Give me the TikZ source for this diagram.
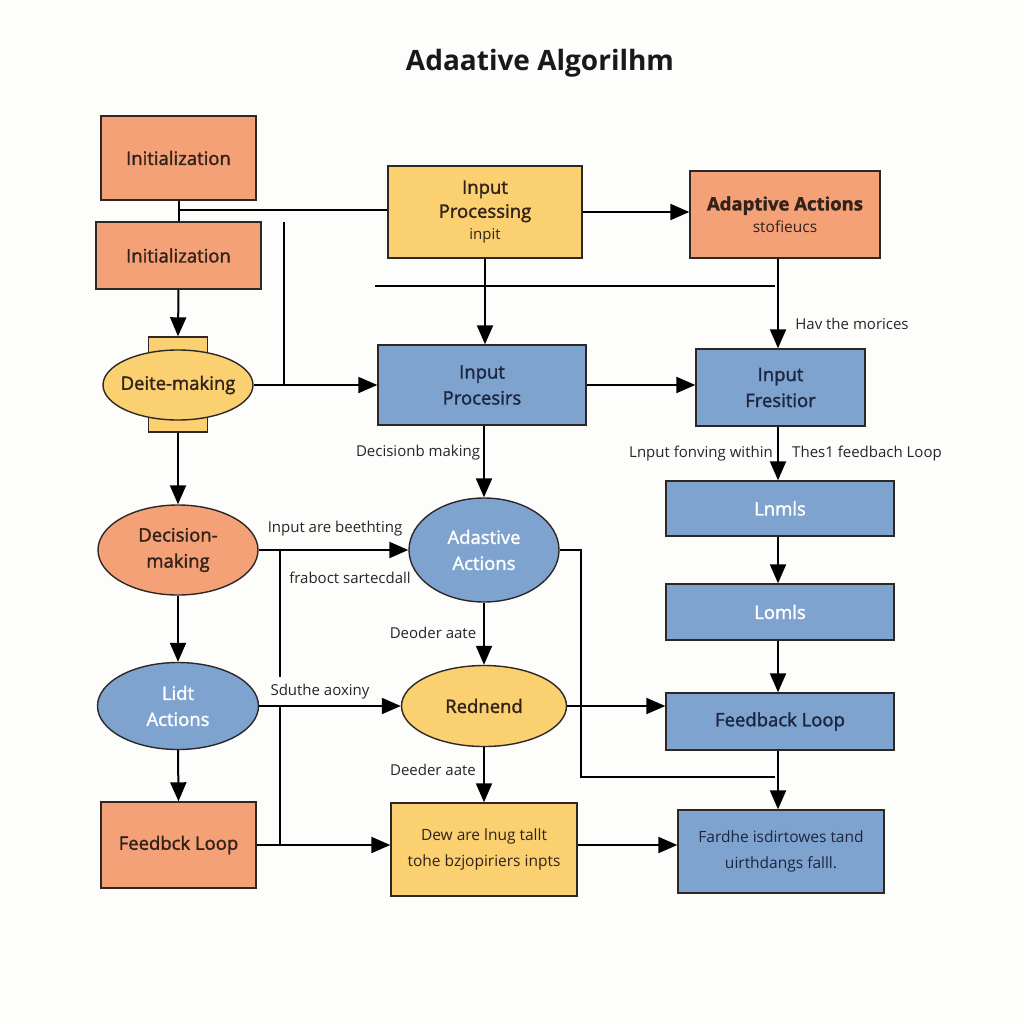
\documentclass[tikz,border=0pt]{standalone}
\usepackage{fontspec}
\setmainfont{Open Sans}
\newfontfamily\medf[FakeBold=1.6]{Open Sans}
\usetikzlibrary{shapes.geometric,arrows.meta}
\definecolor{org}{RGB}{244,161,120}
\definecolor{yel}{RGB}{250,208,112}
\definecolor{blu}{RGB}{126,163,206}
\definecolor{edge}{RGB}{45,40,38}
\definecolor{dtxt}{RGB}{50,34,26}
\definecolor{ntxt}{RGB}{28,38,64}
\definecolor{bg}{RGB}{253,253,252}
\begin{document}
\begin{tikzpicture}[x=1pt,y=-1pt,
  shp/.style={draw=edge,line width=1.4pt,inner sep=0pt,align=center,
    font=\medf\fontsize{18.5}{26}\selectfont},
  obox/.style={shp,rectangle,fill=org,text=dtxt},
  ybox/.style={shp,rectangle,fill=yel,text=dtxt},
  bbox/.style={shp,rectangle,fill=blu,text=ntxt},
  wbox/.style={shp,rectangle,fill=blu,text=white},
  oell/.style={shp,ellipse,fill=org,text=dtxt},
  yell/.style={shp,ellipse,fill=yel,text=dtxt},
  bell/.style={shp,ellipse,fill=blu,text=white},
  conn/.style={line width=2pt,draw=black},
  arr/.style={conn,-{Triangle[length=19pt,width=16pt]}},
  lbl/.style={inner sep=0pt,text=black!85,font=\fontsize{15}{17}\selectfont}
]
\useasboundingbox[fill=bg] (0,0) rectangle (1024,1024);

% title
\node[inner sep=0pt,font=\bfseries\fontsize{28}{30}\selectfont,text=black!90] (title) at (540,63) {Adaative Algorilhm};

% left column
\node[obox,minimum width=155,minimum height=84] (init1) at (178.5,158) {Initialization};
\node[obox,minimum width=165,minimum height=67] (init2) at (178.5,255.5) {Initialization};
\node[rectangle,draw=edge,fill=yel,line width=1.4pt,inner sep=0pt,minimum width=59,minimum height=95] (tab) at (178,384.5) {};
\node[yell,inner xsep=-16pt,minimum width=150,minimum height=70] (dm0) at (178,385) {Deite-making};
\node[oell,minimum width=160,minimum height=90] (dec) at (178,550) {Decision-\\making};
\node[bell,minimum width=161,minimum height=87] (lidt) at (178,706) {Lidt\\Actions};
\node[obox,minimum width=155,minimum height=86] (fbl) at (178.5,845) {Feedbck Loop};

% middle column
\node[ybox,minimum width=194,minimum height=92] (inproc) at (485,212) {Input\\[-2pt]Processing\\[-4pt]{\fontsize{15}{18}\selectfont\normalfont inpit}};
\node[bbox,minimum width=208,minimum height=80] (inprocs) at (482,385) {Input\\Procesirs};
\node[bell,minimum width=150,minimum height=104] (adap) at (484,550) {Adastive\\Actions};
\node[yell,minimum width=165,minimum height=81] (red) at (484,706) {Rednend};
\node[ybox,minimum width=186,minimum height=93,font=\fontsize{15.5}{26}\selectfont] (ybot) at (484,849.5) {Dew are lnug tallt\\tohe bzjopiriers inpts};

% right column
\node[obox,minimum width=190,minimum height=87] (adabox) at (785,214.5) {{\bfseries Adaptive Actions}\\[-4pt]{\fontsize{15.5}{18}\selectfont\normalfont stofieucs}};
\node[bbox,minimum width=169,minimum height=77] (fres) at (780.5,387.5) {Input\\Fresitior};
\node[wbox,minimum width=228,minimum height=55] (lnmls) at (780,508.5) {Lnmls};
\node[wbox,minimum width=228,minimum height=56] (lomls) at (780,612) {Lomls};
\node[bbox,minimum width=228,minimum height=57] (fbr) at (780,721.5) {Feedback Loop};
\node[bbox,minimum width=206,minimum height=83,font=\fontsize{15.5}{26}\selectfont] (rbot) at (781,851.5) {Fardhe isdirtowes tand\\uirthdangs falll.};

% helper coordinates
\coordinate (j1) at (178.5,210);
\coordinate (v1) at (284,222);
\coordinate (v2) at (280,677);
\coordinate (v3) at (280,706);
\coordinate (v3b) at (280,846);
\coordinate (h1a) at (375,286);
\coordinate (h1b) at (775,286);
\coordinate (c1) at (581,777);
\coordinate (c2) at (775,777);
\coordinate (rx) at (778,0);

% connectors left
\draw[conn] (init1.south) -- (init2.north);
\draw[conn] (j1) -- (j1 -| inproc.west);
\draw[arr] (init2.south) -- (tab.north);
\draw[conn] (v1) -- (v1 |- dm0.east);
\draw[arr] (dm0.east) -- (dm0.east -| inprocs.west);
\draw[arr] (tab.south) -- (dec.north);
\draw[arr] (dec.south) -- (lidt.north);
\draw[arr] (lidt.south) -- (fbl.north);
\draw[arr] (dec.east) -- (adap.west);
\draw[conn] (v2 |- dec.east) -- (v2);
\draw[arr] (lidt.east) -- (red.west);
\draw[conn] (v3) -- (v3b);
\draw[arr] (fbl.east) -- (fbl.east -| ybot.west);

% connectors middle
\draw[arr] (inproc.east) -- (inproc.east -| adabox.west);
\draw[conn] (h1a) -- (h1b);
\draw[arr] (inproc.south) -- (inproc.south |- inprocs.north);
\draw[arr] (inprocs.east) -- (inprocs.east -| fres.west);
\draw[arr] (inprocs.south -| adap.north) -- (adap.north);
\draw[arr] (adap.south) -- (red.north);
\draw[arr] (red.south) -- (ybot.north);
\draw[arr] (red.east) -- (red.east -| fbr.west);
\draw[conn] (adap.east) -| (c1) -- (c2);
\draw[arr] (ybot.east |- fbl.east) -- (fbl.east -| rbot.west);

% connectors right
\draw[arr] (rx |- adabox.south) -- (rx |- fres.north);
\draw[arr] (rx |- fres.south) -- (rx |- lnmls.north);
\draw[arr] (rx |- lnmls.south) -- (rx |- lomls.north);
\draw[arr] (rx |- lomls.south) -- (rx |- fbr.north);
\draw[arr] (rx |- fbr.south) -- (rx |- rbot.north);

% labels
\node[lbl] (l1) at (335,529) {Input are beethting};
\node[lbl] (l2) at (350,578) {fraboct sartecdall};
\node[lbl] (l3) at (320,692) {Sduthe aoxiny};
\node[lbl] (l4) at (433,633) {Deoder aate};
\node[lbl] (l5) at (433,770) {Deeder aate};
\node[lbl] (l6) at (418,453) {Decisionb making};
\node[lbl] (l7) at (852,324) {Hav the morices};
\node[lbl] (l8) at (701,454) {Lnput fonving within};
\node[lbl] (l9) at (867,454) {Thes1 feedbach Loop};
\end{tikzpicture}
\end{document}
